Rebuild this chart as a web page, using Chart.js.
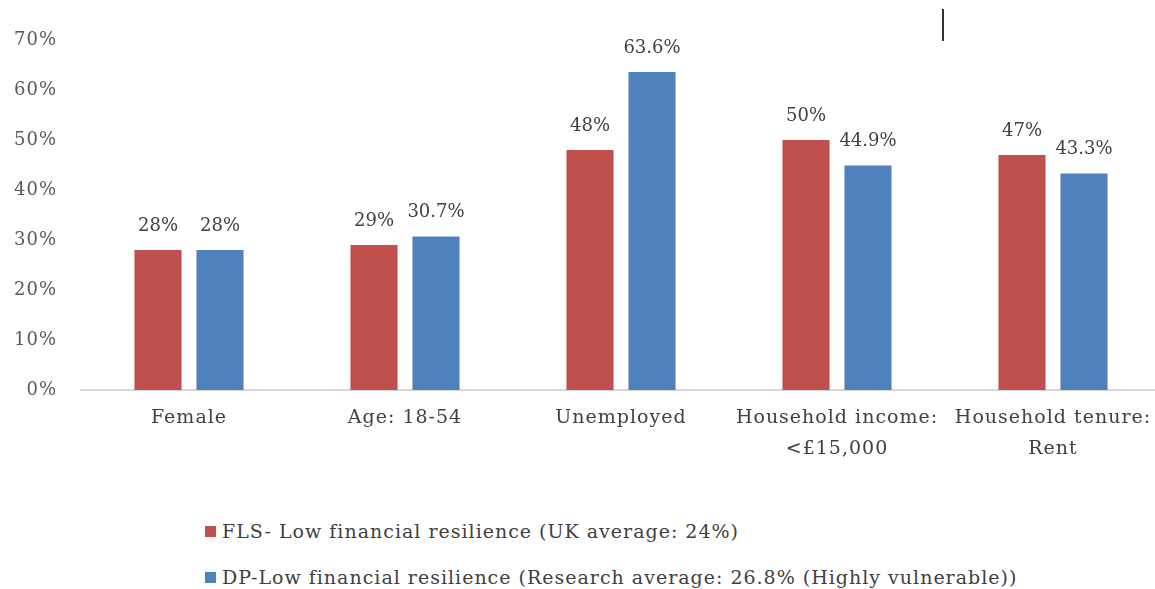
<!DOCTYPE html>
<html>
<head>
<meta charset="utf-8">
<script src="https://cdn.jsdelivr.net/npm/chart.js@4"></script>
<style>
  html, body { margin: 0; padding: 0; background: #fff; overflow: hidden; width: 1155px; height: 589px; }
  #wrap { position: absolute; left: 0; top: 0; width: 1170px; height: 480px; }
  #legend { position: absolute; left: 205px; top: 508px; font-family: "DejaVu Serif", serif; font-size: 19px; letter-spacing: 1px; color: #404040; }
  .item { height: 46px; display: flex; align-items: center; }
  .box { width: 11px; height: 11px; margin-right: 6px; }
  #cursor { position: absolute; left: 942px; top: 9px; width: 2px; height: 32px; background: #333; }
</style>
</head>
<body>
<div id="wrap"><canvas id="c"></canvas></div>
<div id="legend"></div>
<div id="cursor"></div>
<script>
const categories = ["Female", "Age: 18-54", "Unemployed", ["Household income:", "<£15,000"], ["Household tenure:", "Rent"]];
const seriesNames = ["FLS- Low financial resilience (UK average: 24%)", "DP-Low financial resilience (Research average: 26.8% (Highly vulnerable))"];
const flsValues = [28, 29, 48, 50, 47];
const dpValues = [28, 30.7, 63.6, 44.9, 43.3];
const yTicks = [0, 10, 20, 30, 40, 50, 60, 70];
const colors = ["#C0504D", "#4F81BD"];

const FONT = "DejaVu Serif";

const spacingPlugin = {
  id: 'spacing',
  beforeDraw(chart) { chart.ctx.letterSpacing = '1px'; },
  afterDraw(chart) { chart.ctx.letterSpacing = '0px'; }
};

const labelPlugin = {
  id: 'barLabels',
  afterDatasetsDraw(chart) {
    const ctx = chart.ctx;
    ctx.save();
    ctx.letterSpacing = '0px';
    ctx.font = '18px "' + FONT + '"';
    ctx.fillStyle = '#404040';
    ctx.textAlign = 'center';
    ctx.textBaseline = 'middle';
    chart.data.datasets.forEach((ds, i) => {
      const meta = chart.getDatasetMeta(i);
      meta.data.forEach((bar, j) => {
        ctx.fillText(ds.data[j] + '%', bar.x, bar.y - 24);
      });
    });
    ctx.restore();
  }
};

new Chart(document.getElementById('c'), {
  type: 'bar',
  data: {
    labels: categories,
    datasets: [
      { label: seriesNames[0], data: flsValues, backgroundColor: colors[0], categoryPercentage: 0.574, barPercentage: 0.76 },
      { label: seriesNames[1], data: dpValues, backgroundColor: colors[1], categoryPercentage: 0.574, barPercentage: 0.76 }
    ]
  },
  options: {
    responsive: true,
    maintainAspectRatio: false,
    animation: false,
    layout: { padding: { left: 0, right: 9, top: 40, bottom: 0 } },
    plugins: { legend: { display: false }, tooltip: { enabled: false } },
    scales: {
      x: {
        grid: { display: false, drawTicks: false },
        border: { display: true, color: '#d9d9d9', width: 2 },
        ticks: { color: '#404040', font: { family: FONT, size: 19, lineHeight: 1.6 }, padding: 13, maxRotation: 0, autoSkip: false },
        afterFit(s) { s.height = 90; }
      },
      y: {
        min: 0, max: 70,
        grid: { display: false, drawTicks: false },
        border: { display: false },
        afterBuildTicks(s) { s.ticks = yTicks.map(v => ({ value: v })); },
        ticks: { color: '#595959', font: { family: FONT, size: 18 }, padding: 24, callback: v => v + '%' },
        afterFit(s) { s.width = 81; }
      }
    }
  },
  plugins: [spacingPlugin, labelPlugin]
});

const lg = document.getElementById('legend');
seriesNames.forEach((n, i) => {
  const d = document.createElement('div');
  d.className = 'item';
  d.innerHTML = '<span class="box" style="background:' + colors[i] + '"></span><span></span>';
  d.lastChild.textContent = n;
  lg.appendChild(d);
});
</script>
</body>
</html>
